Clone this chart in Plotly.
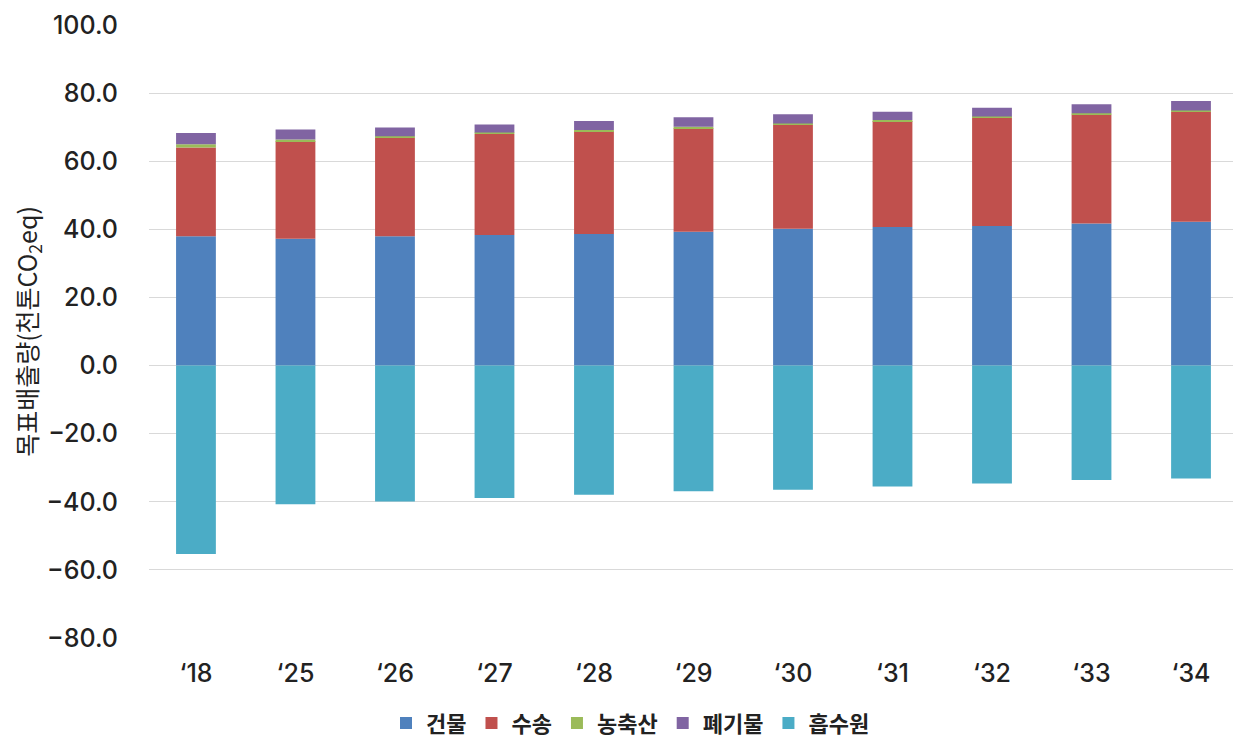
import plotly.graph_objects as go

years = ["‘18", "‘25", "‘26", "‘27", "‘28", "‘29", "‘30", "‘31", "‘32", "‘33", "‘34"]
building = [38.0, 37.2, 38.0, 38.3, 38.6, 39.3, 40.2, 40.7, 41.0, 41.7, 42.2]
transport = [26.0, 28.7, 28.9, 29.7, 30.2, 30.4, 30.5, 31.1, 31.8, 32.0, 32.3]
agriculture = [1.0, 0.5, 0.4, 0.4, 0.4, 0.4, 0.4, 0.3, 0.3, 0.4, 0.4]
waste = [3.3, 2.9, 2.6, 2.4, 2.6, 2.8, 2.7, 2.4, 2.6, 2.6, 2.8]
sink = [-55.3, -40.7, -39.9, -38.9, -37.9, -36.9, -36.5, -35.5, -34.6, -33.6, -33.2]

names = ["건물", "수송", "농축산", "폐기물", "흡수원"]
colors = ["#4F81BD", "#C0504D", "#9BBB59", "#8064A2", "#4BACC6"]
series = [building, transport, agriculture, waste, sink]

fig = go.Figure()
for name, vals, col in zip(names, series, colors):
    fig.add_trace(go.Bar(x=years, y=vals, name=name, marker=dict(color=col, line=dict(width=0))))

num_font = "Inter, Roboto, sans-serif"
kr_font = "Noto Sans CJK KR, Noto Sans, sans-serif"
fig.update_layout(
    barmode="relative",
    bargap=0.6,
    width=1245, height=736,
    margin=dict(l=141, r=20, t=17, b=106, autoexpand=False),
    plot_bgcolor="white", paper_bgcolor="white",
    font=dict(family=num_font, size=25, color="#222222"),
    legend=dict(orientation="h", xref="container", x=0.5, xanchor="center",
                y=-0.139, yanchor="middle",
                font=dict(family=kr_font, size=22, color="#222222", weight="bold"),
                itemwidth=30, traceorder="normal"),
    xaxis=dict(showgrid=False, showline=False, ticks="", range=[-0.472, 10.422],
               tickfont=dict(family=num_font, size=25, color="#222222", weight=500),
               ticklabelstandoff=18),
    yaxis=dict(range=[-80, 100], dtick=20, tick0=0, tickformat=".1f",
               showgrid=True, gridcolor="#D9D9D9", gridwidth=1,
               zeroline=True, zerolinecolor="#D9D9D9", zerolinewidth=1,
               showline=False, ticks="",
               tickfont=dict(family=num_font, size=25, color="#222222", weight=500),
               ticklabelstandoff=30,
               title=dict(text="목표배출량(천톤CO<sub>2</sub>eq)",
                          font=dict(family=kr_font, size=25, color="#222222"),
                          standoff=4)),
)

fig.write_html("out.html")
